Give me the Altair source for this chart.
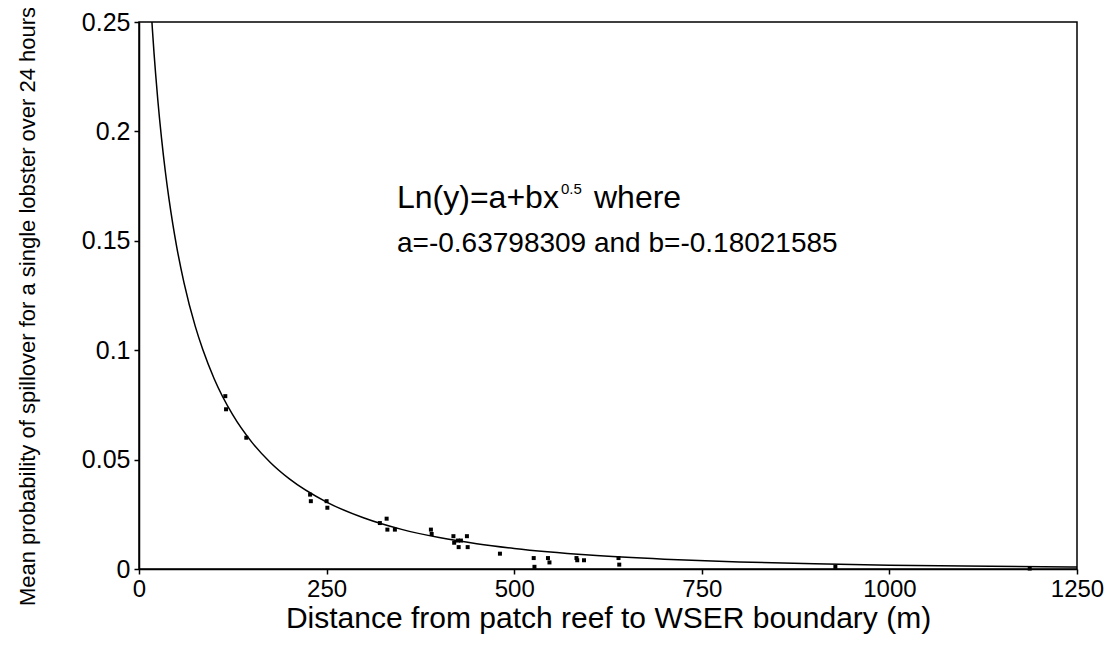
import altair as alt
import pandas as pd

# Observed points (distance m, mean probability)
dist = [115, 116, 143, 228, 229, 250, 251, 321, 330, 331, 341, 389, 390, 419, 420,
        425, 429, 426, 437, 438, 481, 526, 527, 545, 547, 583, 584, 593, 639, 640,
        928, 1187]
prob = [0.079, 0.073, 0.060, 0.034, 0.031, 0.031, 0.028, 0.021, 0.023, 0.018, 0.018,
        0.018, 0.016, 0.015, 0.012, 0.013, 0.013, 0.010, 0.015, 0.010, 0.007, 0.005,
        0.001, 0.005, 0.003, 0.005, 0.004, 0.004, 0.005, 0.002, 0.001, 0.0002]

# Fitted curve
curve_x = [17, 18, 20, 22, 25, 30, 35, 40, 45, 50, 60, 75, 85, 100, 125, 150, 175,
           200, 250, 300, 350, 400, 450, 500, 600, 700, 800, 900, 1000, 1100, 1250]
curve_y = [0.2513, 0.2459, 0.2359, 0.2269, 0.2146, 0.1969, 0.1819, 0.1690, 0.1577,
           0.1477, 0.1308, 0.1109, 0.1003, 0.0871, 0.0704, 0.0581, 0.0487, 0.0413,
           0.0306, 0.0233, 0.0181, 0.01437, 0.01155, 0.00939, 0.00639, 0.00449,
           0.00323, 0.00237, 0.00177, 0.00134, 0.00090]

x_ticks = [0, 250, 500, 750, 1000, 1250]
y_ticks = [0, 0.05, 0.1, 0.15, 0.2, 0.25]

eq_main = ["Ln(y)=a+bx"]
eq_sup = ["0.5"]
eq_tail = ["where"]
eq_line2 = ["a=-0.63798309 and b=-0.18021585"]

FONT = "Liberation Sans"
W, H = 938, 547

pts = pd.DataFrame({"x": dist, "y": prob})
crv = pd.DataFrame({"x": curve_x, "y": curve_y})

xs = alt.Scale(domain=[0, 1250], nice=False, zero=False)
ys = alt.Scale(domain=[0, 0.25], nice=False, zero=False)

xaxis = alt.Axis(values=x_ticks, title="Distance from patch reef to WSER boundary (m)",
                 labelExpr="format(datum.value, 'd')", labelFlush=False,
                 labelFontSize=24, titleFontSize=30, labelPadding=3, titlePadding=2,
                 tickSize=5, grid=False)
yaxis = alt.Axis(values=y_ticks, title="Mean probability of spillover for a single lobster over 24 hours",
                 labelExpr="format(datum.value, '~g')", labelFlush=False,
                 labelFontSize=25, titleFontSize=22, labelPadding=4,
                 titleX=-100, titleY=284, tickSize=5, grid=False)

line = alt.Chart(crv).mark_line(color="black", strokeWidth=1.5, clip=True,
                                interpolate="monotone").encode(
    x=alt.X("x:Q", scale=xs, axis=xaxis),
    y=alt.Y("y:Q", scale=ys, axis=yaxis),
)

points = alt.Chart(pts).mark_square(color="black", size=16, opacity=1).encode(
    x=alt.X("x:Q", scale=xs),
    y=alt.Y("y:Q", scale=ys),
)

def txt(strings, px, py, size):
    return alt.Chart(pd.DataFrame({"t": strings})).mark_text(
        align="left", baseline="alphabetic", font=FONT, fontSize=size, color="black"
    ).encode(text="t:N", x=alt.value(px), y=alt.value(py))

t1 = txt(eq_main, 258, 186, 32)
t2 = txt(eq_sup, 422, 172, 15)
t3 = txt(eq_tail, 455, 186, 32)
t4 = txt(eq_line2, 258, 230, 28)

chart = alt.layer(line, points, t1, t2, t3, t4).properties(
    width=W, height=H,
    autosize=alt.AutoSizeParams(type="none"),
    padding={"left": 131, "top": 14, "right": 33, "bottom": 67},
    background="white",
).configure_axis(
    domainColor="black", tickColor="black", labelColor="black", titleColor="black",
    labelFont=FONT, titleFont=FONT, titleFontWeight="normal", domainWidth=1.5,
    tickWidth=1.5,
).configure_view(stroke="black", strokeWidth=1.5)

chart.save("out.html", embed_options={"renderer": "svg", "actions": False})
